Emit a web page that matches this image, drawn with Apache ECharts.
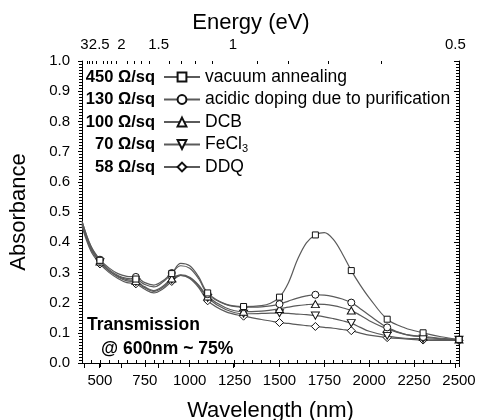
<!DOCTYPE html>
<html><head><meta charset="utf-8">
<script src="https://cdn.jsdelivr.net/npm/echarts@6/dist/echarts.min.js"></script>
<style>html,body{margin:0;padding:0;background:#fff}#c{width:478px;height:420px}</style>
</head><body><div id="c"></div>
<script>
const wavelengths = [400,450,500,550,600,650,700,750,800,850,900,950,1000,1050,1100,1200,1300,1400,1450,1500,1550,1600,1650,1700,1750,1800,1850,1900,1950,2000,2100,2200,2300,2400,2500];
const vacuumAnnealing = [0.470,0.385,0.340,0.310,0.290,0.280,0.278,0.260,0.252,0.268,0.296,0.330,0.322,0.285,0.232,0.195,0.187,0.190,0.198,0.218,0.266,0.342,0.398,0.424,0.432,0.409,0.362,0.306,0.258,0.216,0.145,0.116,0.100,0.087,0.078];
const acidicDoping = [0.470,0.387,0.342,0.315,0.296,0.287,0.285,0.266,0.258,0.272,0.298,0.322,0.314,0.279,0.228,0.194,0.185,0.186,0.189,0.195,0.205,0.215,0.222,0.226,0.225,0.220,0.212,0.200,0.180,0.158,0.118,0.095,0.086,0.080,0.077];
const dcb = [0.462,0.380,0.336,0.306,0.287,0.276,0.272,0.252,0.240,0.254,0.280,0.292,0.284,0.258,0.220,0.183,0.170,0.172,0.175,0.179,0.185,0.190,0.193,0.195,0.194,0.190,0.183,0.174,0.158,0.140,0.113,0.095,0.088,0.082,0.078];
const fecl3 = [0.458,0.376,0.334,0.305,0.285,0.272,0.268,0.249,0.237,0.250,0.276,0.290,0.282,0.255,0.215,0.177,0.163,0.164,0.165,0.165,0.164,0.162,0.160,0.157,0.153,0.147,0.140,0.132,0.118,0.105,0.090,0.082,0.080,0.078,0.077];
const ddq = [0.452,0.370,0.328,0.300,0.280,0.266,0.262,0.244,0.232,0.245,0.270,0.290,0.280,0.250,0.206,0.170,0.155,0.144,0.139,0.134,0.131,0.127,0.124,0.121,0.118,0.115,0.111,0.107,0.099,0.092,0.084,0.080,0.076,0.075,0.075];
const markerWavelengths = [500,700,900,1100,1300,1500,1700,1900,2100,2300,2500];
const seriesNames = ['vacuum annealing','acidic doping due to purification','DCB','FeCl3','DDQ'];
const sheetResistances = ['450 Ω/sq','130 Ω/sq','100 Ω/sq','70 Ω/sq','58 Ω/sq'];
const wavelengthTicks = [500,750,1000,1250,1500,1750,2000,2250,2500];
const wavelengthMinorTicks = [400,450,500,550,600,650,700,750,800,850,900,950,1000,1050,1100,1150,1200,1250,1300,1350,1400,1450,1500,1550,1600,1650,1700,1750,1800,1850,1900,1950,2000,2050,2100,2150,2200,2250,2300,2350,2400,2450,2500];
const energyMajor = [3,2.5,2,1.5,1,0.5];
const energyMinor = [2.9,2.8,2.7,2.6,2.4,2.3,2.2,2.1,1.9,1.8,1.7,1.6,1.4,1.3,1.2,1.1,0.9,0.8,0.7,0.6];
const annotationLines = ['Transmission','@ 600nm ~ 75%'];

const FONT = 'Liberation Sans, Arial, sans-serif';
const allValues = [vacuumAnnealing, acidicDoping, dcb, fecl3, ddq];
const symbols = ['rect','circle','path://M5,0 L10,9 L0,9 Z','path://M0,0 L10,0 L5,9 Z','path://M5,0 L10,5 L5,10 L0,5 Z'];
const symbolSizes = [6,7,[8,7],[8,7],8];

const chart = echarts.init(document.getElementById('c'));
const series = allValues.map((vals, k) => ({
  name: seriesNames[k],
  type: 'line',
  smooth: 0.35,
  xAxisIndex: 0, yAxisIndex: 0,
  symbol: symbols[k],
  symbolSize: symbolSizes[k],
  showAllSymbol: true,
  color: '#5a5a5a',
  lineStyle: {color: '#5a5a5a', width: 1.2},
  itemStyle: {color: '#fff', borderColor: '#111', borderWidth: 1},
  emphasis: {disabled: true},
  animation: false,
  z: 5 - k,
  data: wavelengths.map((w, i) => markerWavelengths.includes(w) ? {value: [w, vals[i]]} : {value: [w, vals[i]], symbol: 'none'})
}));

const e2w = e => 1240 / e;
const option = {
  animation: false,
  backgroundColor: '#fff',
  grid: {left: 82, right: 19, top: 61, bottom: 57, containLabel: false, outerBoundsMode: 'none'},
  xAxis: [
    {type: 'value', position: 'bottom', min: 400, max: 2500, gridIndex: 0,
     name: 'Wavelength (nm)', nameLocation: 'middle', nameGap: 37,
     nameTextStyle: {fontFamily: FONT, fontSize: 22, color: '#000'},
     axisLine: {lineStyle: {color: '#000', width: 1}},
     axisTick: {customValues: wavelengthTicks, inside: false, length: 4, lineStyle: {color: '#000'}},
     axisLabel: {customValues: wavelengthTicks, fontFamily: FONT, fontSize: 15, color: '#000', margin: 10, formatter: v => String(v)},
     splitLine: {show: false}},
    {type: 'value', position: 'bottom', min: 400, max: 2500, gridIndex: 0,
     axisLine: {show: false},
     axisTick: {customValues: wavelengthMinorTicks, inside: true, length: 3, lineStyle: {color: '#000'}},
     axisLabel: {show: false}, splitLine: {show: false}},
    {type: 'value', position: 'top', min: 400, max: 2500, gridIndex: 0,
     axisLine: {lineStyle: {color: '#000', width: 1}},
     axisTick: {customValues: energyMajor.map(e2w), inside: true, length: 5, lineStyle: {color: '#000'}},
     axisLabel: {customValues: energyMajor.map(e2w), showMinLabel: true, showMaxLabel: true, hideOverlap: false,
       fontFamily: FONT, fontSize: 15, color: '#000', margin: 9,
       formatter: v => String(Math.round(1240 / v * 10) / 10)},
     splitLine: {show: false}},
    {type: 'value', position: 'top', min: 400, max: 2500, gridIndex: 0,
     axisLine: {show: false},
     axisTick: {customValues: energyMinor.map(e2w), inside: true, length: 3, lineStyle: {color: '#000'}},
     axisLabel: {show: false}, splitLine: {show: false}}
  ],
  yAxis: [
    {type: 'value', position: 'left', min: 0, max: 1, interval: 0.1, gridIndex: 0,
     name: 'Absorbance', nameLocation: 'middle', nameGap: 52,
     nameTextStyle: {fontFamily: FONT, fontSize: 22, color: '#000'},
     axisLine: {lineStyle: {color: '#000', width: 1}},
     axisTick: {inside: false, length: 4, lineStyle: {color: '#000'}},
     axisLabel: {fontFamily: FONT, fontSize: 15, color: '#000', margin: 12, formatter: v => v.toFixed(1)},
     splitLine: {show: false}},
    {type: 'value', position: 'left', min: 0, max: 1, interval: 0.1, gridIndex: 0,
     axisLine: {show: false}, axisTick: {show: false}, axisLabel: {show: false}, splitLine: {show: false},
     minorTick: {show: true, splitNumber: 10, length: 3, lineStyle: {color: '#000'}}},
    {type: 'value', position: 'right', min: 0, max: 1, interval: 0.1, gridIndex: 0,
     axisLine: {show: true, lineStyle: {color: '#000', width: 1}},
     axisTick: {inside: true, length: 5, lineStyle: {color: '#000'}},
     axisLabel: {show: false}, splitLine: {show: false},
     minorTick: {show: true, splitNumber: 10, length: 3, lineStyle: {color: '#000'}}}
  ],
  legend: {
    orient: 'vertical', left: 163, top: 67, padding: 0,
    itemWidth: 36, itemHeight: 11, itemGap: 2.5, itemTextGap: 6,
    data: seriesNames,
    textStyle: {fontFamily: FONT, fontSize: 17.5, color: '#000', lineHeight: 20,
      rich: {sub: {fontFamily: FONT, fontSize: 11, lineHeight: 20, verticalAlign: 'bottom', padding: [8, 0, 0, 0]}}},
    formatter: n => n === 'FeCl3' ? 'FeCl{sub|3}' : n
  },
  graphic: [
    ...sheetResistances.map((t, i) => ({type: 'text', x: 155, y: 77 + i * 22.5,
      style: {text: t, fontFamily: FONT, fontWeight: 'bold', fontSize: 16.5, fill: '#000', align: 'right', verticalAlign: 'middle'}})),
    ...annotationLines.map((t, i) => ({type: 'text', x: i === 0 ? 87 : 101, y: 325 + i * 24,
      style: {text: t, fontFamily: FONT, fontWeight: 'bold', fontSize: 17.5, fill: '#000', align: 'left', verticalAlign: 'middle'}})),
    {type: 'text', x: 251, y: 23, style: {text: 'Energy (eV)', fontFamily: FONT, fontSize: 22, fill: '#000', align: 'center', verticalAlign: 'middle'}}
  ],
  series: series
};
chart.setOption(option);
</script>
</body></html>
